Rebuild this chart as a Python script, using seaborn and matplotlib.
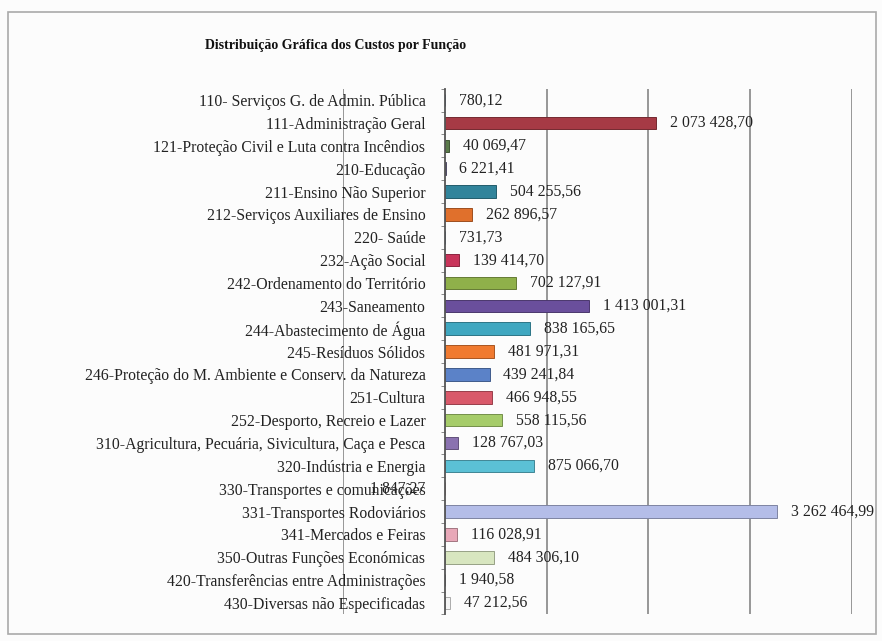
import numpy as np
import pandas as pd
import matplotlib
matplotlib.use("Agg")
import matplotlib.pyplot as plt
import seaborn as sns
from matplotlib.colors import to_rgb
from matplotlib.patches import Rectangle
from matplotlib.ticker import FixedLocator, NullLocator

# Distribuição dos custos por função
funcoes = [
    "110- Serviços G. de Admin. Pública",
    "111-Administração Geral",
    "121-Proteção Civil e Luta contra Incêndios",
    "210-Educação",
    "211-Ensino Não Superior",
    "212-Serviços Auxiliares de Ensino",
    "220- Saúde",
    "232-Ação Social",
    "242-Ordenamento do Território",
    "243-Saneamento",
    "244-Abastecimento de Água",
    "245-Resíduos Sólidos",
    "246-Proteção do M. Ambiente e Conserv. da Natureza",
    "251-Cultura",
    "252-Desporto, Recreio e Lazer",
    "310-Agricultura, Pecuária, Sivicultura, Caça e Pesca",
    "320-Indústria e Energia",
    "330-Transportes e comunicações",
    "331-Transportes Rodoviários",
    "341-Mercados e Feiras",
    "350-Outras Funções Económicas",
    "420-Transferências entre Administrações",
    "430-Diversas não Especificadas",
]
custos = [
    780.12, 2073428.70, 40069.47, 6221.41, 504255.56, 262896.57, 731.73,
    139414.70, 702127.91, 1413001.31, 838165.65, 481971.31, 439241.84,
    466948.55, 558115.56, 128767.03, 875066.70, 1847.27, 3262464.99,
    116028.91, 484306.10, 1940.58, 47212.56,
]
cores = [
    "#4f81bd", "#a63a45", "#5a7a4a", "#6f6a8f", "#31849b", "#e0702c",
    "#4f81bd", "#c8345a", "#8fb04a", "#6a4f9c", "#3fa7c0", "#f07a30",
    "#5b82c8", "#d9596a", "#a6cc6a", "#8a72b0", "#5bc0d5", "#e8a0a8",
    "#b4bde8", "#e8a8b8", "#d8e6c0", "#7a7a90", "#f4f4f4",
]
grelha = [-1e6, 0, 1e6, 2e6, 3e6, 4e6]

df = pd.DataFrame({"funcao": funcoes, "custo": custos})

sns.set_style("white")
plt.rcParams["font.family"] = ["Liberation Serif", "DejaVu Serif"]

fig = plt.figure(figsize=(8.82, 6.41), dpi=100, facecolor="#fcfcfc")
ax = fig.add_axes([0.389, 0.0415, 0.577, 0.820])
ax.set_facecolor("none")

sns.barplot(
    data=df, x="custo", y="funcao", hue="funcao", order=funcoes,
    palette=dict(zip(funcoes, cores)), legend=False, width=0.55,
    saturation=1, orient="h", ax=ax,
)
# contorno mais escuro, a lembrar o 3D do original
for p in ax.patches:
    r, g, b = to_rgb(p.get_facecolor())
    p.set_edgecolor((r * 0.7, g * 0.7, b * 0.7))
    p.set_linewidth(0.7)

n = len(funcoes)
ax.set_xlim(grelha[0], grelha[-1])
ax.set_ylim(n - 0.5, -0.5)
for g in grelha[:1] + grelha[2:]:
    ax.axvline(g, color="#8f8f8f", lw=1.3, zorder=0)

for s in ["top", "right", "bottom"]:
    ax.spines[s].set_visible(False)
ax.spines["left"].set_position(("data", 0))
ax.spines["left"].set_color("#555555")
ax.spines["left"].set_linewidth(1.3)
ax.xaxis.set_major_locator(NullLocator())
ax.yaxis.set_minor_locator(FixedLocator(np.arange(-0.5, n, 1)))
ax.tick_params(axis="y", which="major", length=0, pad=14, labelsize=11.3,
               labelcolor="#222222")
ax.tick_params(axis="y", which="minor", length=3, color="#777777", left=True)
ax.set_xlabel("")
ax.set_ylabel("")


def fmt(v):
    return f"{v:,.2f}".replace(",", " ").replace(".", ",")


for i, v in enumerate(custos):
    if funcoes[i].startswith("330"):
        ax.annotate(fmt(v), (0, i), xytext=(-14, 0), textcoords="offset points",
                    ha="right", va="center", fontsize=11.3, color="#222222")
    else:
        ax.annotate(fmt(v), (v, i), xytext=(10, 0), textcoords="offset points",
                    ha="left", va="center", fontsize=11.3, color="#222222",
                    annotation_clip=False)

fig.text(205 / 882, 1 - 45 / 641, "Distribuição Gráfica dos Custos por Função",
         fontsize=10, fontweight="bold", va="center", ha="left", color="#111111")

fig.patches.append(Rectangle((0.009, 0.011), 0.984, 0.97, transform=fig.transFigure,
                             fill=False, edgecolor="#aaaaaa", lw=1.2))

fig.savefig("out.png", dpi=100, facecolor=fig.get_facecolor())
